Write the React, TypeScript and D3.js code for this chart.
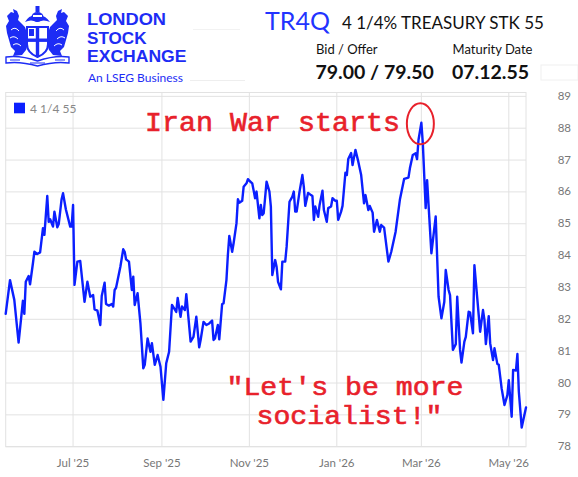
import React from 'react';
import * as d3 from 'd3';

const dates: string[] = [
  '2025-05-15','2025-05-18','2025-05-21','2025-05-24','2025-05-27','2025-05-28','2025-05-29','2025-05-31','2025-06-01','2025-06-03',
  '2025-06-04','2025-06-06','2025-06-08','2025-06-10','2025-06-11','2025-06-13','2025-06-14','2025-06-15','2025-06-17','2025-06-18',
  '2025-06-20','2025-06-21','2025-06-23','2025-06-24','2025-06-26','2025-06-29','2025-06-30','2025-07-01','2025-07-02','2025-07-04',
  '2025-07-06','2025-07-09','2025-07-11','2025-07-13','2025-07-15','2025-07-16','2025-07-18','2025-07-20','2025-07-21','2025-07-23',
  '2025-07-24','2025-07-26','2025-07-28','2025-07-29','2025-07-30','2025-07-31','2025-08-03','2025-08-05','2025-08-06','2025-08-07',
  '2025-08-09','2025-08-11','2025-08-12','2025-08-13','2025-08-15','2025-08-17','2025-08-19','2025-08-20','2025-08-22','2025-08-24',
  '2025-08-25','2025-08-27','2025-08-29','2025-08-31','2025-09-02','2025-09-04','2025-09-06','2025-09-08','2025-09-11','2025-09-12',
  '2025-09-14','2025-09-15','2025-09-17','2025-09-18','2025-09-21','2025-09-23','2025-09-25','2025-09-27','2025-09-28','2025-09-30',
  '2025-10-02','2025-10-04','2025-10-06','2025-10-07','2025-10-08','2025-10-10','2025-10-11','2025-10-13','2025-10-14','2025-10-16',
  '2025-10-17','2025-10-18','2025-10-20','2025-10-21','2025-10-23','2025-10-24','2025-10-25','2025-10-27','2025-10-28','2025-10-30',
  '2025-10-31','2025-11-01','2025-11-03','2025-11-04','2025-11-05','2025-11-06','2025-11-08','2025-11-09','2025-11-10','2025-11-11',
  '2025-11-13','2025-11-15','2025-11-16','2025-11-17','2025-11-19','2025-11-20','2025-11-21','2025-11-23','2025-11-24','2025-11-26',
  '2025-11-27','2025-11-29','2025-12-01','2025-12-02','2025-12-03','2025-12-04','2025-12-06','2025-12-08','2025-12-09','2025-12-10',
  '2025-12-12','2025-12-14','2025-12-15','2025-12-16','2025-12-17','2025-12-19','2025-12-20','2025-12-22','2025-12-23','2025-12-25',
  '2025-12-26','2025-12-28','2025-12-29','2025-12-31','2026-01-01','2026-01-02','2026-01-04','2026-01-05','2026-01-07','2026-01-08',
  '2026-01-09','2026-01-11','2026-01-12','2026-01-14','2026-01-16','2026-01-18','2026-01-20','2026-01-21','2026-01-23','2026-01-24',
  '2026-01-26','2026-01-27','2026-01-29','2026-01-31','2026-02-01','2026-02-03','2026-02-06','2026-02-08','2026-02-11','2026-02-14',
  '2026-02-17','2026-02-20','2026-02-21','2026-02-23','2026-02-25','2026-02-26','2026-02-27','2026-03-01','2026-03-02','2026-03-04',
  '2026-03-05','2026-03-08','2026-03-11','2026-03-13','2026-03-15','2026-03-17','2026-03-18','2026-03-20','2026-03-21','2026-03-23',
  '2026-03-25','2026-03-26','2026-03-28','2026-03-29','2026-03-31','2026-04-01','2026-04-03','2026-04-04','2026-04-06','2026-04-07',
  '2026-04-09','2026-04-10','2026-04-11','2026-04-13','2026-04-14','2026-04-15','2026-04-17','2026-04-18','2026-04-20','2026-04-21',
  '2026-04-23','2026-04-24','2026-04-26','2026-04-28','2026-04-30','2026-05-01','2026-05-03','2026-05-04','2026-05-06','2026-05-07',
  '2026-05-08','2026-05-10','2026-05-13',
];

const prices: number[] = [
  82.17, 83.23, 82.61, 81.27, 82.58, 82.17, 83.18, 83.36, 83.10, 83.76,
  84.12, 84.05, 84.10, 84.86, 84.65, 85.87, 85.06, 85.14, 84.91, 85.38,
  84.89, 84.99, 85.77, 85.96, 85.45, 84.91, 84.91, 85.59, 83.08, 83.81,
  83.83, 82.55, 83.18, 82.71, 82.76, 82.31, 82.27, 81.82, 82.73, 83.15,
  82.48, 82.43, 82.48, 82.40, 82.92, 82.99, 83.65, 84.20, 84.12, 83.88,
  83.81, 82.92, 83.34, 82.45, 82.82, 81.87, 80.46, 80.57, 81.40, 80.98,
  81.25, 80.57, 80.88, 80.51, 79.47, 80.62, 80.98, 82.45, 82.23, 82.67,
  82.08, 82.40, 82.29, 82.79, 81.30, 81.45, 82.08, 81.12, 81.35, 81.92,
  81.82, 81.87, 81.96, 81.35, 81.40, 81.82, 81.37, 82.48, 82.50, 83.23,
  84.02, 84.62, 84.12, 84.39, 85.01, 85.77, 85.66, 85.72, 86.16, 86.27,
  86.40, 86.35, 86.27, 86.04, 85.80, 86.01, 85.17, 85.59, 85.27, 85.33,
  86.32, 86.01, 85.54, 83.39, 83.86, 83.65, 83.18, 82.94, 83.81, 83.81,
  84.28, 85.69, 85.85, 86.01, 85.38, 85.38, 86.01, 86.53, 86.16, 85.56,
  85.97, 85.90, 85.87, 85.12, 85.54, 85.22, 85.59, 86.04, 85.43, 85.06,
  85.49, 85.54, 85.80, 85.72, 85.72, 85.12, 85.38, 85.56, 86.60, 86.53,
  87.03, 87.22, 86.84, 87.32, 86.95, 86.53, 85.64, 85.90, 85.43, 85.56,
  85.35, 84.75, 85.12, 84.75, 84.96, 84.88, 83.81, 84.12, 84.74, 85.75,
  86.41, 86.45, 86.74, 87.16, 87.21, 87.03, 87.63, 88.17, 87.54, 85.49,
  86.37, 84.07, 85.23, 82.71, 82.03, 82.55, 83.55, 82.92, 82.76, 81.04,
  81.22, 82.71, 81.04, 80.64, 81.30, 81.45, 82.24, 82.21, 81.56, 83.70,
  82.66, 82.14, 81.61, 82.29, 81.98, 81.22, 82.10, 81.25, 80.72, 81.09,
  80.60, 80.57, 79.83, 79.31, 79.62, 80.09, 78.94, 80.41, 80.39, 80.91,
  79.73, 78.60, 79.23,
];

const yTicks: number[] = [78, 79, 80, 81, 82, 83, 84, 85, 86, 87, 88, 89];
const xTickDates: string[] = ['2025-07-01', '2025-09-01', '2025-11-01', '2026-01-01', '2026-03-01', '2026-05-01'];
const xTickLabels: string[] = ["Jul '25", "Sep '25", "Nov '25", "Jan '26", "Mar '26", "May '26"];
const seriesName = '4 1/4 55';
const peakDate = '2026-03-01';
const peakValue = 88.17;

const BLUE = '#0b1fff';
const BRAND = '#1d2cf5';
const RED = '#e8212b';
const GRID = '#e2e2e2';
const SANS = "Lato, 'Open Sans', 'Liberation Sans', sans-serif";
const LOGO_FONT = "'Liberation Sans', Arial, sans-serif";
const MONO = "'Liberation Mono', 'DejaVu Sans Mono', monospace";

function Logo() {
  const griffin =
    'M26,50 L22,55 L13,56 L15,51 L11,47 L9,40 L7,33 L6,26 L9,21 L7,16 L11,12 L14,13 L13,9 L17,11 L19,16 L18,20 L22,24 L25,27 L27,33 L27,47 Z';
  return (
    <g>
      <path d={griffin} fill={BRAND} />
      <path d={griffin} fill={BRAND} transform="translate(75,0) scale(-1,1)" />
      <path d="M11,30 Q15,26 19,31 M10,38 Q14,35 18,39 M13,45 Q17,42 21,46" stroke="#fff" strokeWidth={1} fill="none" />
      <path d="M64,30 Q60,26 56,31 M65,38 Q61,35 57,39 M62,45 Q58,42 54,46" stroke="#fff" strokeWidth={1} fill="none" />
      <path d="M25,22 Q30,14 37,16 Q44,14 50,22 Q44,19 37,22 Q31,19 25,22 Z" fill={BRAND} />
      <ellipse cx={37.5} cy={17} rx={6} ry={5} fill={BRAND} />
      <rect x={35.5} y={6} width={4} height={6} fill={BRAND} />
      <rect x={33} y={15} width={9} height={2} fill="#fff" />
      <path d="M27,27 L48,27 L48,44 Q48,53 37.5,57 Q27,53 27,44 Z" fill="#fff" stroke={BRAND} strokeWidth={2} />
      <rect x={35.8} y={27} width={3.4} height={29} fill={BRAND} />
      <rect x={27} y={38.5} width={21} height={3.4} fill={BRAND} />
      <rect x={29} y={29} width={5} height={7} fill={BRAND} />
      <path d="M6,57 Q20,55 37.5,61 Q55,55 69,57 L69,63 Q55,61 37.5,66 Q20,61 6,63 Z" fill="#fff" stroke={BRAND} strokeWidth={1.4} />
      <path d="M10,60 L20,60 M30,63 L45,63 M55,60 L65,60" stroke={BRAND} strokeWidth={1.2} />
    </g>
  );
}

export default function App() {
  const W = 578;
  const H = 477;
  const left = 5.7;
  const right = 526;
  const top = 92.5;
  const bottom = 446.7;

  const parse = d3.timeParse('%Y-%m-%d');
  const data = dates.map((d, i) => ({ date: parse(d) as Date, v: prices[i] }));

  const x = d3
    .scaleTime()
    .domain([parse('2025-05-15') as Date, parse('2026-05-13') as Date])
    .range([left, right]);
  const y = d3.scaleLinear().domain([78, 89]).range([bottom, 96.35]);

  const line = d3
    .line<{ date: Date; v: number }>()
    .x((d) => x(d.date))
    .y((d) => y(d.v));

  const px = x(parse(peakDate) as Date);
  const py = y(peakValue);

  return (
    <svg
      width={W}
      height={H}
      viewBox={`0 0 ${W} ${H}`}
      style={{ position: 'absolute', left: 0, top: 0, background: '#fff' }}
    >
      <rect x={0} y={0} width={W} height={H} fill="#fff" />

      {/* Header */}
      <Logo />
      <text x={87} y={25.2} textLength={79} lengthAdjust="spacingAndGlyphs" fontFamily={LOGO_FONT} fontWeight={700} fontSize={16.4} fill={BRAND}>LONDON</text>
      <text x={87} y={43.7} textLength={59.5} lengthAdjust="spacingAndGlyphs" fontFamily={LOGO_FONT} fontWeight={700} fontSize={16.4} fill={BRAND}>STOCK</text>
      <text x={87} y={62.2} textLength={99.5} lengthAdjust="spacingAndGlyphs" fontFamily={LOGO_FONT} fontWeight={700} fontSize={16.4} fill={BRAND}>EXCHANGE</text>
      <text x={88} y={81.5} fontFamily={SANS} fontSize={12} fill={BRAND}>An LSEG Business</text>
      <line x1={190} x2={245} y1={80.5} y2={80.5} stroke="#eeeeee" strokeWidth={1} />
      <line x1={193} x2={240} y1={29.5} y2={29.5} stroke="#f2f2f2" strokeWidth={1} />

      <text x={265} y={29.5} fontFamily={SANS} fontSize={25} fill="#2233ff">TR4Q</text>
      <text x={342} y={29.3} fontFamily={SANS} fontSize={17} fill="#111">4 1/4% TREASURY STK 55</text>
      <text x={316} y={54.3} fontFamily={SANS} fontSize={13} fill="#111">Bid / Offer</text>
      <text x={452.5} y={54.3} fontFamily={SANS} fontSize={13} fill="#111">Maturity Date</text>
      <text x={315.5} y={79.3} fontFamily={SANS} fontWeight={700} fontSize={19.5} fill="#111">79.00 / 79.50</text>
      <text x={452} y={79.3} fontFamily={SANS} fontWeight={700} fontSize={19.5} fill="#111">07.12.55</text>
      <rect x={541} y={65} width={37} height={15} fill="none" stroke="#f0f0f0" strokeWidth={1} />

      {/* Grid */}
      <g>
        {yTicks.map((t) => (
          <line key={'gy' + t} x1={left} x2={right} y1={y(t)} y2={y(t)} stroke={GRID} strokeWidth={1} />
        ))}
        {xTickDates.map((d) => {
          const xx = x(parse(d) as Date);
          return <line key={'gx' + d} x1={xx} x2={xx} y1={top} y2={bottom} stroke={GRID} strokeWidth={1} />;
        })}
        <rect x={left} y={top} width={right - left} height={bottom - top} fill="none" stroke={GRID} strokeWidth={1} />
      </g>

      {/* Y axis labels (right) */}
      {yTicks.map((t) => (
        <text
          key={'yl' + t}
          x={571}
          y={y(t) + 3.5}
          textAnchor="end"
          fontFamily={SANS}
          fontSize={11.5}
          fill="#777"
        >
          {t}
        </text>
      ))}

      {/* X axis labels */}
      {xTickDates.map((d, i) => (
        <text
          key={'xl' + d}
          x={x(parse(d) as Date)}
          y={467.3}
          textAnchor="middle"
          fontFamily={SANS}
          fontSize={11.5}
          fill="#777"
        >
          {xTickLabels[i]}
        </text>
      ))}

      {/* Legend */}
      <rect x={14} y={102.7} width={11} height={10.6} fill={BLUE} />
      <text x={30} y={112.7} fontFamily={SANS} fontSize={12} fill="#888">{seriesName}</text>

      {/* Series */}
      <path d={line(data) || ''} fill="none" stroke={BLUE} strokeWidth={2.4} strokeLinejoin="round" strokeLinecap="round" />

      {/* Annotations */}
      <text
        x={145}
        y={131}
        textLength={255}
        lengthAdjust="spacingAndGlyphs"
        fontFamily={MONO}
        fontSize={27}
        fill={RED}
        stroke={RED}
        strokeWidth={0.6}
      >
        Iran War starts
      </text>
      <ellipse cx={px - 1} cy={py + 1} rx={13.5} ry={20.5} fill="none" stroke={RED} strokeWidth={2} />
      <text
        x={226.5}
        y={394.5}
        textLength={237}
        lengthAdjust="spacingAndGlyphs"
        fontFamily={MONO}
        fontSize={26}
        fill={RED}
        stroke={RED}
        strokeWidth={0.6}
      >
        "Let's be more
      </text>
      <text
        x={256.5}
        y={424.2}
        textLength={186}
        lengthAdjust="spacingAndGlyphs"
        fontFamily={MONO}
        fontSize={26}
        fill={RED}
        stroke={RED}
        strokeWidth={0.6}
      >
        socialist!"
      </text>
    </svg>
  );
}
